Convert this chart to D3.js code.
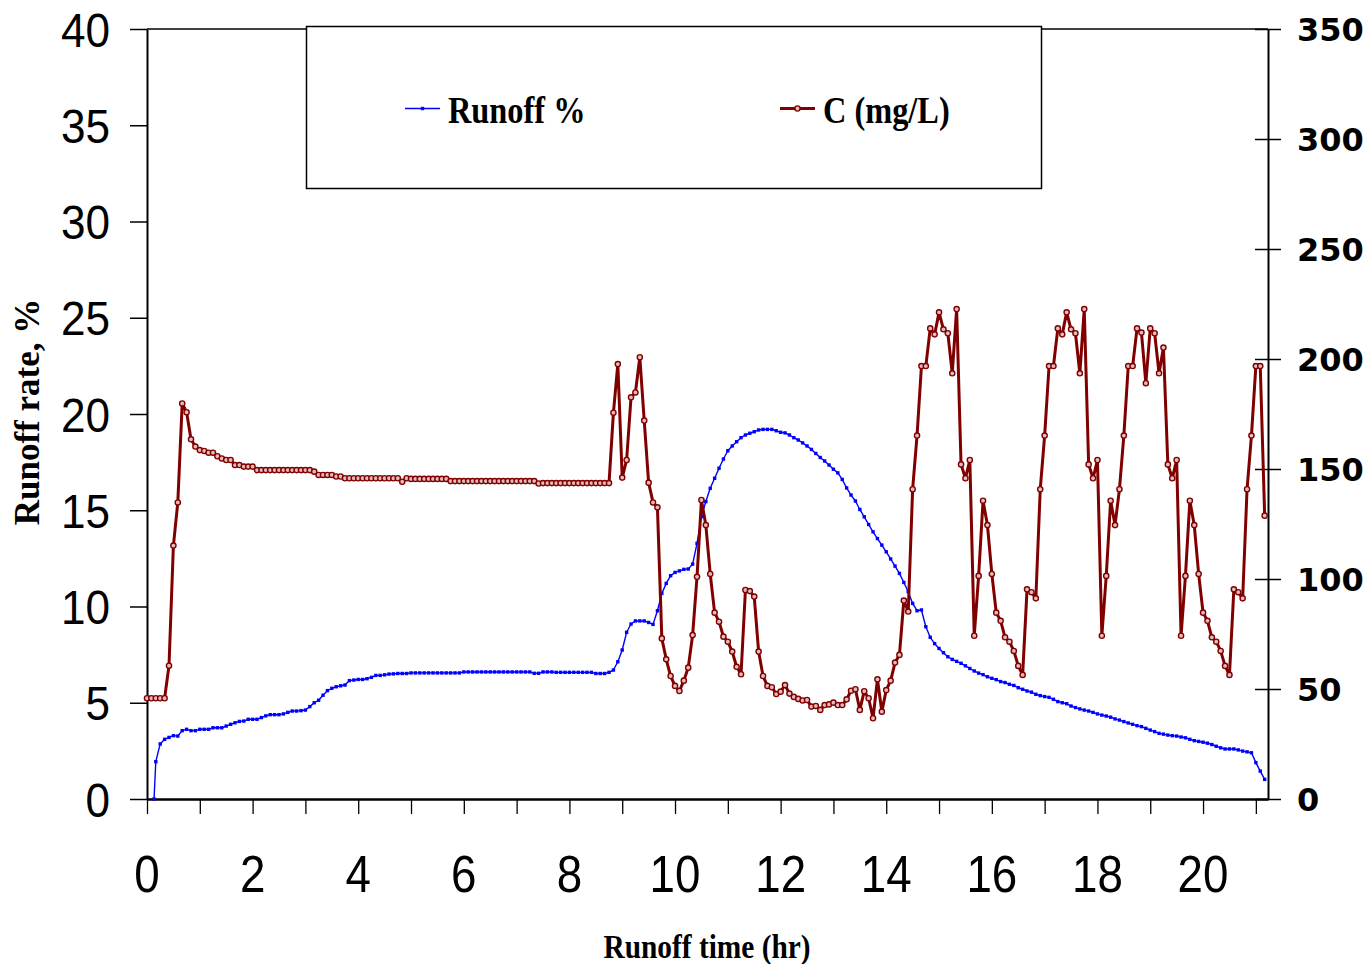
<!DOCTYPE html>
<html>
<head>
<meta charset="utf-8">
<script src="https://cdn.jsdelivr.net/npm/d3@7/dist/d3.min.js"></script>
<style>
  html, body { margin: 0; padding: 0; background: #ffffff; }
  svg { display: block; }
</style>
</head>
<body>
<svg id="chart" width="1364" height="964"></svg>
<script>
// Sampling times (minutes since rain start), one row per hour
const minutes = [
  0, 5, 8, 10, 15, 20, 25, 30, 35, 40, 45, 50, 55,
  60, 65, 70, 75, 80, 85, 90, 95, 100, 105, 110, 115,
  120, 125, 130, 135, 140, 145, 150, 155, 160, 165, 170, 175,
  180, 185, 190, 195, 200, 205, 210, 215, 220, 225, 230, 235,
  240, 245, 250, 255, 260, 265, 270, 275, 280, 285, 290, 295,
  300, 305, 310, 315, 320, 325, 330, 335, 340, 345, 350, 355,
  360, 365, 370, 375, 380, 385, 390, 395, 400, 405, 410, 415,
  420, 425, 430, 435, 440, 445, 450, 455, 460, 465, 470, 475,
  480, 485, 490, 495, 500, 505, 510, 515, 520, 525, 530, 535,
  540, 545, 550, 555, 560, 565, 570, 575, 580, 585, 590, 595,
  600, 605, 610, 615, 620, 625, 630, 635, 640, 645, 650, 655,
  660, 665, 670, 675, 680, 685, 690, 695, 700, 705, 710, 715,
  720, 725, 730, 735, 740, 745, 750, 755, 760, 765, 770, 775,
  780, 785, 790, 795, 800, 805, 810, 815, 820, 825, 830, 835,
  840, 845, 850, 855, 860, 865, 870, 875, 880, 885, 890, 895,
  900, 905, 910, 915, 920, 925, 930, 935, 940, 945, 950, 955,
  960, 965, 970, 975, 980, 985, 990, 995, 1000, 1005, 1010, 1015,
  1020, 1025, 1030, 1035, 1040, 1045, 1050, 1055, 1060, 1065, 1070, 1075,
  1080, 1085, 1090, 1095, 1100, 1105, 1110, 1115, 1120, 1125, 1130, 1135,
  1140, 1145, 1150, 1155, 1160, 1165, 1170, 1175, 1180, 1185, 1190, 1195,
  1200, 1205, 1210, 1215, 1220, 1225, 1230, 1235, 1240, 1245, 1250, 1255,
  1260, 1265, 1270
];

// Runoff rate, % (left axis); no runoff before 8 min
const runoffPct = [
  null, null, 0, 1.94, 2.86, 3.1, 3.2, 3.29, 3.27, 3.55, 3.62, 3.55, 3.55,
  3.62, 3.62, 3.62, 3.7, 3.7, 3.7, 3.79, 3.88, 3.96, 4.03, 4.05, 4.14,
  4.14, 4.14, 4.23, 4.32, 4.38, 4.38, 4.38, 4.42, 4.5, 4.57, 4.57, 4.59,
  4.62, 4.8, 5.0, 5.13, 5.39, 5.63, 5.75, 5.83, 5.88, 5.92, 6.15, 6.18,
  6.21, 6.21, 6.25, 6.32, 6.42, 6.42, 6.45, 6.49, 6.5, 6.52, 6.52, 6.52,
  6.55, 6.55, 6.55, 6.55, 6.55, 6.55, 6.55, 6.55, 6.55, 6.55, 6.55, 6.55,
  6.6, 6.6, 6.6, 6.6, 6.6, 6.6, 6.6, 6.6, 6.6, 6.6, 6.6, 6.6,
  6.6, 6.6, 6.6, 6.6, 6.53, 6.53, 6.6, 6.6, 6.6, 6.58, 6.58, 6.58,
  6.58, 6.58, 6.58, 6.58, 6.58, 6.58, 6.52, 6.52, 6.52, 6.58, 6.7, 7.13,
  7.74, 8.66, 9.09, 9.25, 9.25, 9.25, 9.17, 9.07, 9.78, 10.68, 11.2, 11.6,
  11.77, 11.85, 11.93, 11.95, 12.2, 13.28, 14.67, 15.45, 16.14, 16.66, 17.18, 17.66,
  18.09, 18.34, 18.56, 18.77, 18.91, 19.0, 19.08, 19.17, 19.2, 19.2, 19.2, 19.13,
  19.05, 19.02, 18.91, 18.77, 18.65, 18.5, 18.34, 18.16, 17.95, 17.74, 17.56, 17.35,
  17.13, 16.94, 16.6, 16.16, 15.79, 15.48, 15.04, 14.66, 14.26, 13.88, 13.53, 13.19,
  12.84, 12.47, 12.1, 11.72, 11.25, 10.77, 10.16, 9.78, 9.82, 8.95, 8.4, 8.07,
  7.82, 7.6, 7.39, 7.25, 7.15, 7.05, 6.92, 6.78, 6.65, 6.54, 6.46, 6.35,
  6.27, 6.2, 6.1, 6.05, 5.96, 5.9, 5.78, 5.7, 5.61, 5.55, 5.44, 5.37,
  5.32, 5.28, 5.18, 5.06, 5.0, 4.95, 4.83, 4.75, 4.68, 4.62, 4.57, 4.5,
  4.42, 4.36, 4.31, 4.25, 4.16, 4.1, 4.02, 3.95, 3.88, 3.81, 3.76, 3.67,
  3.58, 3.5, 3.41, 3.37, 3.32, 3.29, 3.27, 3.22, 3.18, 3.1, 3.03, 2.99,
  2.95, 2.9, 2.83, 2.74, 2.66, 2.6, 2.6, 2.6, 2.55, 2.49, 2.45, 2.4,
  1.89, 1.45, 1.02
];

// Concentration C, mg/L (right axis)
const concMgL = [
  45.8, 45.8, null, 45.8, 45.8, 45.8, 60.6, 115.2, 134.8, 179.8, 175.8, 163.5, 160.2,
  158.6, 158.2, 157.4, 157.4, 155.8, 154.8, 154.1, 154.1, 151.8, 151.8, 151.1, 151.1,
  151.1, 149.5, 149.5, 149.5, 149.5, 149.5, 149.5, 149.5, 149.5, 149.5, 149.5, 149.5,
  149.5, 149.5, 148.8, 147.3, 147.3, 147.3, 147.3, 146.6, 146.6, 145.8, 145.8, 145.8,
  145.8, 145.8, 145.8, 145.8, 145.8, 145.8, 145.8, 145.8, 145.8, 145.8, 144.2, 145.8,
  145.5, 145.5, 145.5, 145.5, 145.5, 145.5, 145.5, 145.5, 145.5, 144.5, 144.5, 144.5,
  144.5, 144.5, 144.5, 144.5, 144.5, 144.5, 144.5, 144.5, 144.5, 144.5, 144.5, 144.5,
  144.5, 144.5, 144.5, 144.5, 144.5, 143.4, 143.6, 143.6, 143.6, 143.6, 143.6, 143.6,
  143.6, 143.6, 143.6, 143.6, 143.6, 143.6, 143.6, 143.6, 143.6, 143.6, 175.6, 197.7,
  146.1, 154.1, 182.6, 184.8, 200.8, 172, 143.8, 134.8, 132.6, 73, 63.5, 55.9,
  51.4, 49.1, 53.8, 59.7, 74.5, 101, 135.9, 124.5, 102.3, 84.7, 80.6, 73.8,
  71.5, 67, 60.1, 56.7, 95, 94.5, 92, 67, 55.9, 51.4, 50.8, 47.7,
  48.8, 51.8, 47.9, 46.4, 45.5, 44.8, 45, 42, 42.3, 40.5, 42.7, 43,
  43.8, 42.7, 42.7, 45.3, 49.2, 49.9, 40.5, 49, 45.8, 36.7, 54.4, 39.7,
  49.5, 53.8, 62, 65.5, 90.2, 85.2, 140.8, 165.2, 196.8, 196.8, 213.9, 211.2,
  221.2, 213.5, 211.7, 193.5, 222.7, 152.1, 145.8, 154.1, 74.2, 101.4, 135.6, 124.5,
  102.3, 84.7, 81, 73.5, 71.5, 67.3, 60.5, 56.4, 95.3, 94, 91.2, 140.8,
  165.2, 196.8, 196.8, 213.9, 211.2, 221.2, 213.5, 211.7, 193.5, 222.7, 152.1, 145.8,
  154.1, 74.2, 101.4, 135.6, 124.5, 140.8, 165.2, 196.8, 196.8, 213.9, 212, 189,
  213.9, 211.7, 193.5, 205.2, 152.1, 145.8, 154.1, 74.2, 101.4, 135.6, 124.5, 102.3,
  84.7, 81, 73.5, 71.5, 67.3, 60.5, 56.4, 95.3, 94, 91.2, 140.8, 165.2,
  196.8, 196.8, 128.8
];

const hourTicks = [0, 1, 2, 3, 4, 5, 6, 7, 8, 9, 10, 11, 12, 13, 14, 15, 16, 17, 18, 19, 20, 21];
const hourLabels = [0, 2, 4, 6, 8, 10, 12, 14, 16, 18, 20];
const runoffTicks = [0, 5, 10, 15, 20, 25, 30, 35, 40];
const concTicks = [0, 50, 100, 150, 200, 250, 300, 350];
const seriesNames = ["Runoff %", "C (mg/L)"];
const axisTitles = { x: "Runoff time (hr)", y: "Runoff rate, %" };

const BLUE = "#0000ff";
const DARKRED = "#800000";
const MARKER_FILL = "#e2bcbc";
const SANS = "'Liberation Sans', Arial, sans-serif";
const SERIF = "'Liberation Serif', 'Times New Roman', serif";
const WIDE = "'DejaVu Sans', Verdana, sans-serif";

const svg = d3.select("#chart");
const L = 147, R = 1268, T = 29, B = 799;

const x = d3.scaleLinear().domain([0, 21.23]).range([L, R]);
const yL = d3.scaleLinear().domain([0, 40]).range([B, T]);
const yR = d3.scaleLinear().domain([0, 350]).range([B, T]);

const hrs = m => m / 60;
const runoffPts = minutes.map((m, i) => [hrs(m), runoffPct[i]]).filter(d => d[1] !== null);
const concPts = minutes.map((m, i) => [hrs(m), concMgL[i]]).filter(d => d[1] !== null);

// plot-area top border
svg.append("line")
  .attr("x1", L).attr("x2", R).attr("y1", T).attr("y2", T)
  .attr("stroke", "#000").attr("stroke-width", 1.5);

// left axis
const gL = svg.append("g").attr("transform", `translate(${L},0)`)
  .call(d3.axisLeft(yL).tickValues(runoffTicks).tickSize(17).tickSizeOuter(0).tickFormat(""));
gL.select(".domain").attr("stroke", "#000").attr("stroke-width", 2);
gL.selectAll(".tick line").attr("stroke", "#000").attr("stroke-width", 1.5);

// bottom axis
const gB = svg.append("g").attr("transform", `translate(0,${B})`)
  .call(d3.axisBottom(x).tickValues(hourTicks).tickSize(15).tickSizeOuter(0).tickFormat(""));
gB.select(".domain").attr("stroke", "#000").attr("stroke-width", 2.5);
gB.selectAll(".tick line").attr("stroke", "#000").attr("stroke-width", 1.3);

// right axis with crossing ticks
const gR = svg.append("g").attr("transform", `translate(${R},0)`)
  .call(d3.axisRight(yR).tickValues(concTicks).tickSize(13).tickSizeOuter(0).tickFormat(""));
gR.select(".domain").attr("stroke", "#000").attr("stroke-width", 2);
gR.selectAll(".tick line").attr("x1", -13).attr("stroke", "#000").attr("stroke-width", 1.5);

// tick labels (condensed horizontally)
function label(g, txt, px, py, opts) {
  g.append("text")
    .attr("transform", `translate(${px},${py}) scale(${opts.sx || 1},1)`)
    .attr("text-anchor", opts.anchor || "start")
    .attr("font-family", opts.family)
    .attr("font-size", opts.size)
    .attr("font-weight", opts.weight || "normal")
    .attr("fill", "#000")
    .text(txt);
}
const labels = svg.append("g");
runoffTicks.forEach(v => label(labels, v, 110, yL(v) + 17.5,
  { anchor: "end", family: SANS, size: 49, sx: 0.9 }));
hourLabels.forEach(v => label(labels, v, x(v), 892,
  { anchor: "middle", family: SANS, size: 52, sx: 0.88 }));
concTicks.forEach(v => label(labels, v, 1297, yR(v) + 11.8,
  { anchor: "start", family: WIDE, size: 32, weight: "bold" }));

// axis titles
label(svg, axisTitles.x, 707, 958, { anchor: "middle", family: SERIF, size: 33, weight: "bold", sx: 0.89 });
svg.append("text")
  .attr("transform", "translate(39,412) rotate(-90)")
  .attr("text-anchor", "middle")
  .attr("font-family", SERIF).attr("font-size", 35).attr("font-weight", "bold")
  .text(axisTitles.y);

// runoff series
const lineL = d3.line().x(d => x(d[0])).y(d => yL(d[1]));
const lineR = d3.line().x(d => x(d[0])).y(d => yR(d[1]));

svg.append("path").datum(runoffPts)
  .attr("d", lineL).attr("fill", "none")
  .attr("stroke", BLUE).attr("stroke-width", 1.4).attr("stroke-linejoin", "round");
svg.append("g").selectAll("rect").data(runoffPts).join("rect")
  .attr("x", d => x(d[0]) - 1.7).attr("y", d => yL(d[1]) - 1.7)
  .attr("width", 3.4).attr("height", 3.4).attr("fill", BLUE);

// concentration series
svg.append("path").datum(concPts)
  .attr("d", lineR).attr("fill", "none")
  .attr("stroke", DARKRED).attr("stroke-width", 3).attr("stroke-linejoin", "round");
svg.append("g").selectAll("circle").data(concPts).join("circle")
  .attr("cx", d => x(d[0])).attr("cy", d => yR(d[1])).attr("r", 2.6)
  .attr("fill", MARKER_FILL).attr("stroke", DARKRED).attr("stroke-width", 1.4);

// legend
const lg = svg.append("g");
lg.append("rect").attr("x", 306.5).attr("y", 26.5).attr("width", 735).attr("height", 162)
  .attr("fill", "#fff").attr("stroke", "#000").attr("stroke-width", 1.5);
lg.append("line").attr("x1", 405).attr("x2", 440).attr("y1", 108.5).attr("y2", 108.5)
  .attr("stroke", BLUE).attr("stroke-width", 1.6);
lg.append("rect").attr("x", 420.8).attr("y", 106.8).attr("width", 3.4).attr("height", 3.4).attr("fill", BLUE);
label(lg, seriesNames[0], 448, 123, { family: SERIF, size: 39, weight: "bold", sx: 0.83 });
lg.append("line").attr("x1", 780).attr("x2", 815).attr("y1", 108.5).attr("y2", 108.5)
  .attr("stroke", DARKRED).attr("stroke-width", 3);
lg.append("circle").attr("cx", 797.5).attr("cy", 108.5).attr("r", 2.6)
  .attr("fill", MARKER_FILL).attr("stroke", DARKRED).attr("stroke-width", 1.4);
label(lg, seriesNames[1], 823, 123, { family: SERIF, size: 39, weight: "bold", sx: 0.83 });
</script>
</body>
</html>
